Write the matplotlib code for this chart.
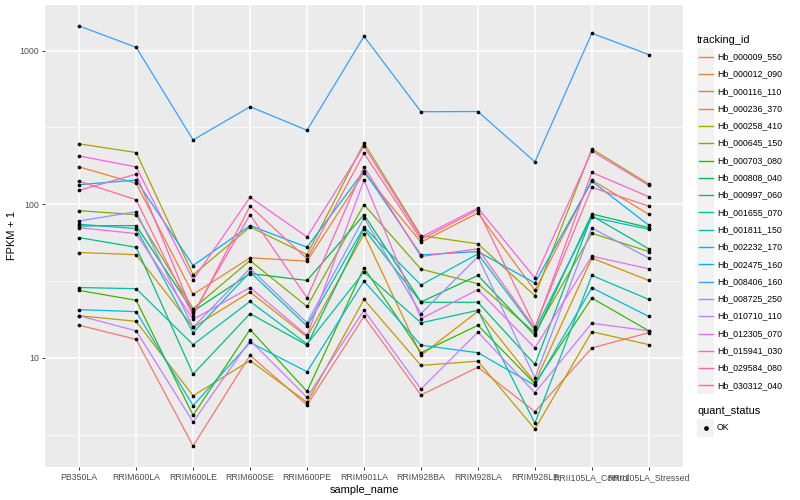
import numpy as np
import matplotlib
matplotlib.use("Agg")
import matplotlib.pyplot as plt
from matplotlib.patches import Rectangle
from matplotlib.lines import Line2D

plt.rcParams["font.family"] = ["Liberation Sans", "DejaVu Sans"]

samples = ["PB350LA", "RRIM600LA", "RRIM600LE", "RRIM600SE", "RRIM600PE",
           "RRIM901LA", "RRIM928BA", "RRIM928LA", "RRIM928LE",
           "RRII105LA_Control", "RRII105LA_Stressed"]

ids = ["Hb_000009_550", "Hb_000012_090", "Hb_000116_110", "Hb_000236_370",
       "Hb_000258_410", "Hb_000645_150", "Hb_000703_080", "Hb_000808_040",
       "Hb_000997_060", "Hb_001655_070", "Hb_001811_150", "Hb_002232_170",
       "Hb_002475_160", "Hb_008406_160", "Hb_008725_250", "Hb_010710_110",
       "Hb_012305_070", "Hb_015941_030", "Hb_029584_080", "Hb_030312_040"]

# FPKM + 1, one list per gene, in sample order
hb_000009_550 = [16.3, 13.2, 2.67, 10.4, 4.93, 18.6, 5.73, 8.7, 4.47, 11.6, 14.6]
hb_000012_090 = [175, 136.6, 25.9, 44.8, 42.6, 160, 56.6, 87.7, 27.5, 143.6, 86]
hb_000116_110 = [48.5, 47, 15.8, 26.8, 13.7, 64.1, 10.4, 20.1, 6.92, 44.6, 31.9]
hb_000236_370 = [18.8, 17.3, 5.67, 9.6, 5.14, 24, 8.93, 9.52, 3.44, 14.8, 12.2]
hb_000258_410 = [247, 217, 34.7, 71.1, 47, 250.5, 62.5, 55.2, 25.4, 229, 135.2]
hb_000645_150 = [90.8, 85.5, 20.9, 43, 21.6, 99.3, 37.8, 30.4, 14.6, 64.7, 49.2]
hb_000703_080 = [27.5, 23.7, 4.23, 15.3, 6.05, 38.6, 10.8, 16.3, 6.8, 24.5, 15]
hb_000808_040 = [72.2, 72.6, 20.1, 35.4, 31.9, 85.5, 23.1, 34.4, 14.0, 86.4, 70.4]
hb_000997_060 = [60.6, 52.5, 7.84, 19.4, 12.1, 69, 23, 23, 9.06, 84, 51.2]
hb_001655_070 = [28.7, 28.2, 12.2, 23.3, 12.3, 36.2, 16.9, 20.4, 3.76, 34.4, 24]
hb_001811_150 = [74.1, 69.4, 14.6, 36.2, 16.1, 71, 29.8, 47.5, 15.2, 82.2, 68.7]
hb_002232_170 = [20.6, 20, 4.89, 12.6, 8.13, 31.6, 12.1, 10.8, 6.63, 28.6, 18.6]
hb_002475_160 = [134, 143.6, 39.9, 72.6, 52.5, 165, 46.8, 49.2, 30.7, 141, 73]
hb_008406_160 = [1445, 1050, 262, 431, 303, 1238, 400, 401, 188.6, 1295, 942]
hb_008725_250 = [77.8, 89.4, 15.8, 38.2, 16.9, 81.4, 19.4, 45.5, 7.43, 70, 44.6]
hb_010710_110 = [18.8, 15, 3.83, 13, 5.54, 20.4, 6.27, 14.7, 5.94, 16.8, 15]
hb_012305_070 = [70.4, 64.4, 17.8, 28.7, 14, 143.6, 18, 27.8, 11.6, 45.9, 38]
hb_015941_030 = [206, 175, 32.2, 110.9, 61.3, 238, 61, 94.5, 33.1, 222, 132.5]
hb_029584_080 = [123, 157, 19.5, 85.5, 24.6, 175, 45.7, 51.2, 15.5, 161, 111.9]
hb_030312_040 = [141, 107, 18.8, 97.3, 44.1, 214.8, 58.9, 92.1, 15.9, 128.7, 97.3]

series = [hb_000009_550, hb_000012_090, hb_000116_110, hb_000236_370,
          hb_000258_410, hb_000645_150, hb_000703_080, hb_000808_040,
          hb_000997_060, hb_001655_070, hb_001811_150, hb_002232_170,
          hb_002475_160, hb_008406_160, hb_008725_250, hb_010710_110,
          hb_012305_070, hb_015941_030, hb_029584_080, hb_030312_040]

# ggplot2 default hue palette for 20 levels
colors = ["#F8766D", "#EA8331", "#D89000", "#C09B00", "#A3A500", "#7CAE00",
          "#39B600", "#00BB4E", "#00BF7D", "#00C1A3", "#00BFC4", "#00BAE0",
          "#00B0F6", "#35A2FF", "#9590FF", "#C77CFF", "#E76BF3", "#FA62DB",
          "#FF62BC", "#FF6C91"]

W, H = 800, 500
fig = plt.figure(figsize=(8, 5), dpi=100)


def fx(px):
    return px / W


def fy(py):
    return 1 - py / H


ax = fig.add_axes([fx(45), fy(467), (683 - 45) / W, (467 - 5) / H])
ax.set_facecolor("#EBEBEB")
for s in ax.spines.values():
    s.set_visible(False)

x = np.arange(len(samples))
for vals, col in zip(series, colors):
    ax.plot(x, vals, color=col, lw=0.9, zorder=3)
for vals in series:
    ax.scatter(x, vals, s=7, color="black", zorder=4, linewidths=0)

ax.set_yscale("log")
allv = np.log10(np.concatenate([np.array(v, float) for v in series]))
lo, hi = allv.min(), allv.max()
pad = 0.05 * (hi - lo)
ax.set_ylim(10 ** (lo - pad), 10 ** (hi + pad))
ax.set_xlim(-0.6, len(samples) - 1 + 0.6)

ax.set_yticks([10, 100, 1000])
ax.set_yticklabels(["10", "100", "1000"])
ax.set_yticks([10 ** 0.5, 10 ** 1.5, 10 ** 2.5], minor=True)
ax.yaxis.set_minor_formatter(matplotlib.ticker.NullFormatter())
ax.set_xticks(x)
ax.set_xticklabels(samples)

ax.grid(which="major", color="white", lw=1.1, zorder=0)
ax.grid(which="minor", axis="y", color="white", lw=0.5, zorder=0)
ax.set_axisbelow(True)
ax.tick_params(which="major", length=2.5, width=0.7, color="#333333",
               labelsize=6.3, labelcolor="#4D4D4D", pad=2)
ax.tick_params(which="minor", length=0)

ax.set_xlabel("sample_name", fontsize=7.9, labelpad=2)
ax.set_ylabel("FPKM + 1", fontsize=7.9, labelpad=1.5)

# legend: tracking_id
fig.text(fx(697), fy(40), "tracking_id", fontsize=7.9, va="center", ha="left")
key = 17.3
for i, (name, col) in enumerate(zip(ids, colors)):
    yc = 56.7 + i * key
    fig.add_artist(Rectangle((fx(697), fy(yc + key / 2)), key / W, key / H,
                             transform=fig.transFigure, facecolor="#F2F2F2",
                             edgecolor="none"))
    fig.add_artist(Line2D([fx(699), fx(712.5)], [fy(yc), fy(yc)],
                          transform=fig.transFigure, color=col, lw=1.0))
    fig.text(fx(717), fy(yc), name, fontsize=6.3, va="center", ha="left")

# legend: quant_status
fig.text(fx(697), fy(411), "quant_status", fontsize=7.9, va="center", ha="left")
fig.add_artist(Rectangle((fx(697), fy(428 + key / 2)), key / W, key / H,
                         transform=fig.transFigure, facecolor="#F2F2F2",
                         edgecolor="none"))
fig.add_artist(Line2D([fx(705.6)], [fy(428)], transform=fig.transFigure,
                      marker="o", ms=2.4, color="black", lw=0))
fig.text(fx(717), fy(428), "OK", fontsize=6.3, va="center", ha="left")

fig.savefig("out.png", dpi=100)
